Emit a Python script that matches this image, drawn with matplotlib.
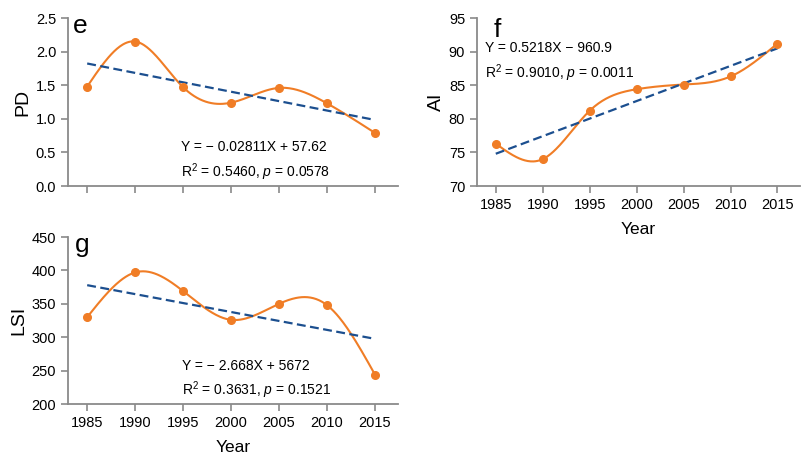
import numpy as np
import matplotlib
matplotlib.use("Agg")
import matplotlib.pyplot as plt

plt.rcParams["font.family"] = ["Liberation Sans", "DejaVu Sans"]
plt.rcParams["mathtext.fontset"] = "custom"
plt.rcParams["mathtext.rm"] = "Liberation Sans"
plt.rcParams["mathtext.it"] = "Liberation Sans:italic"

years = [1985, 1990, 1995, 2000, 2005, 2010, 2015]
pd_vals = [1.48, 2.15, 1.47, 1.24, 1.46, 1.23, 0.79]
ai_vals = [76.3, 74.0, 81.2, 84.4, 85.1, 86.3, 91.2]
lsi_vals = [330, 397, 369, 326, 350, 348, 244]

eq_e = ["Y = \u2212 0.02811X + 57.62", "R$^2$ = 0.5460, $p$ = 0.0578"]
eq_f = ["Y = 0.5218X \u2212 960.9", "R$^2$ = 0.9010, $p$ = 0.0011"]
eq_g = ["Y = \u2212 2.668X + 5672", "R$^2$ = 0.3631, $p$ = 0.1521"]

ORANGE = "#f07d26"
NAVY = "#1c4f8f"
GREY = "#8a8a8a"


def natural_spline(x, y, xs):
    x = np.asarray(x, float)
    y = np.asarray(y, float)
    n = len(x)
    h = np.diff(x)
    A = np.zeros((n, n))
    b = np.zeros(n)
    A[0, 0] = 1
    A[-1, -1] = 1
    for i in range(1, n - 1):
        A[i, i - 1] = h[i - 1]
        A[i, i] = 2 * (h[i - 1] + h[i])
        A[i, i + 1] = h[i]
        b[i] = 3 * ((y[i + 1] - y[i]) / h[i] - (y[i] - y[i - 1]) / h[i - 1])
    c = np.linalg.solve(A, b)
    out = np.empty_like(xs)
    for k, xv in enumerate(xs):
        i = min(np.searchsorted(x, xv, side="right") - 1, n - 2)
        i = max(i, 0)
        dx = xv - x[i]
        bb = (y[i + 1] - y[i]) / h[i] - h[i] * (2 * c[i] + c[i + 1]) / 3
        d = (c[i + 1] - c[i]) / (3 * h[i])
        out[k] = y[i] + bb * dx + c[i] * dx ** 2 + d * dx ** 3
    return out


W, H = 803, 455


def px_axes(fig, left, top, right, bottom):
    return fig.add_axes([left / W, (H - bottom) / H, (right - left) / W, (bottom - top) / H])


def panel(ax, vals, ylim, yticks, fmt, ylabel, letter, letter_pos, eq, eq_pos, show_x):
    xs = np.linspace(years[0], years[-1], 300)
    ax.plot(xs, natural_spline(years, vals, xs), color=ORANGE, lw=1.5, zorder=2)
    ax.plot(years, vals, "o", color=ORANGE, ms=5.5, zorder=3)
    k, b0 = np.polyfit(years, vals, 1)
    xl = np.array([years[0], years[-1]])
    ax.plot(xl, k * xl + b0, color=NAVY, lw=1.6, ls=(0, (4, 2)), zorder=2)

    ax.set_xlim(1983.0, 2017.4)
    ax.set_ylim(*ylim)
    ax.set_xticks(years)
    ax.set_yticks(yticks)
    ax.set_yticklabels([fmt.format(v) for v in yticks])
    if show_x:
        ax.set_xlabel("Year", fontsize=12.5, labelpad=7)
    else:
        ax.set_xticklabels([])
    ax.set_ylabel(ylabel, fontsize=14, labelpad=3)
    for s in ["top", "right"]:
        ax.spines[s].set_visible(False)
    for s in ["left", "bottom"]:
        ax.spines[s].set_color(GREY)
        ax.spines[s].set_linewidth(1.3)
    ax.tick_params(colors=GREY, labelcolor="black", labelsize=10.5, length=5, width=1.2)
    ax.text(letter_pos[0], letter_pos[1], letter, transform=ax.transAxes,
            fontsize=19, va="center", ha="left")
    ax.text(eq_pos[0], eq_pos[1], eq[0], transform=ax.transAxes, fontsize=10, va="center")
    ax.text(eq_pos[0], eq_pos[1] - 0.148, eq[1], transform=ax.transAxes, fontsize=10, va="center")


fig = plt.figure(figsize=(8.03, 4.55), dpi=100)

ax_e = px_axes(fig, 68, 18, 398, 186)
panel(ax_e, pd_vals, (0, 2.5), [0, 0.5, 1.0, 1.5, 2.0, 2.5], "{:.1f}", "PD", "e",
      (0.015, 0.95), eq_e, (0.342, 0.232), False)

ax_f = px_axes(fig, 477, 18, 800, 186)
panel(ax_f, ai_vals, (70, 95), [70, 75, 80, 85, 90, 95], "{:.0f}", "AI", "f",
      (0.052, 0.93), eq_f, (0.025, 0.82), True)

ax_g = px_axes(fig, 68, 237, 398, 404)
panel(ax_g, lsi_vals, (200, 450), [200, 250, 300, 350, 400, 450], "{:.0f}", "LSI", "g",
      (0.02, 0.95), eq_g, (0.345, 0.23), True)

fig.savefig("out.png", dpi=100)
